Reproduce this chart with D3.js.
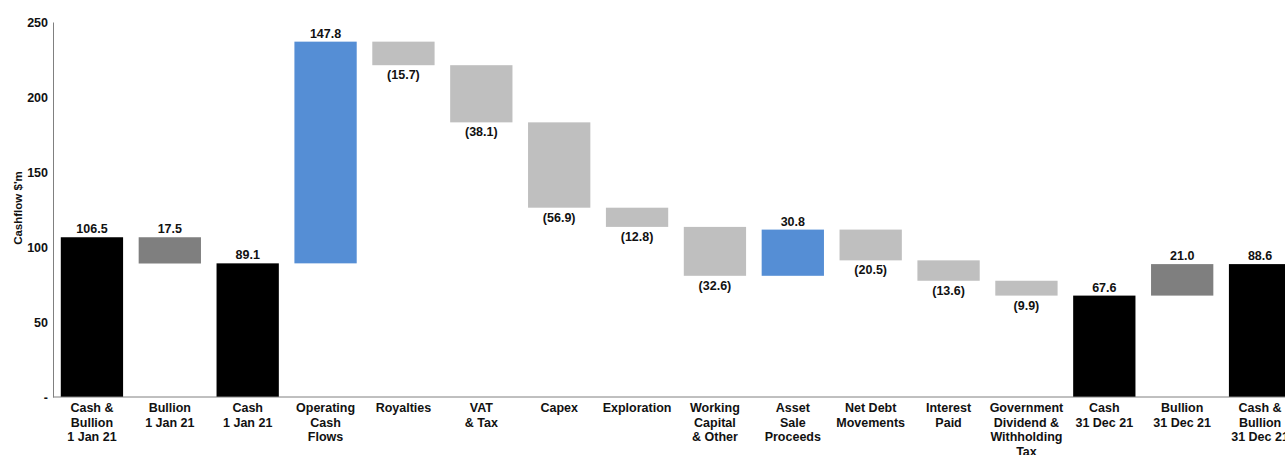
<!DOCTYPE html>
<html>
<head>
<meta charset="utf-8">
<script src="https://cdn.jsdelivr.net/npm/d3@7"></script>
<style>
  body { margin: 0; background: #fff; }
  svg text { font-family: "Liberation Sans", Arial, sans-serif; font-weight: bold; fill: #111; }
</style>
</head>
<body>
<svg width="1285" height="455"></svg>
<script>
const svg = d3.select("svg");

// categories (label lines) and values
const categories = [
    ["Cash &", "Bullion", "1 Jan 21"],
    ["Bullion", "1 Jan 21"],
    ["Cash", "1 Jan 21"],
    ["Operating", "Cash", "Flows"],
    ["Royalties"],
    ["VAT", "& Tax"],
    ["Capex"],
    ["Exploration"],
    ["Working", "Capital", "& Other"],
    ["Asset", "Sale", "Proceeds"],
    ["Net Debt", "Movements"],
    ["Interest", "Paid"],
    ["Government", "Dividend &", "Withholding", "Tax"],
    ["Cash", "31 Dec 21"],
    ["Bullion", "31 Dec 21"],
    ["Cash &", "Bullion", "31 Dec 21"]
];
const values = [106.5, -17.5, 89.1, 147.8, -15.7, -38.1, -56.9, -12.8, -32.6, 30.8, -20.5, -13.6, -9.9, 67.6, 21.0, 88.6];
// total = bar from zero; bullion = dark grey step; flow = step
const kinds = ["total", "bullion", "total", "flow", "flow", "flow", "flow", "flow", "flow", "flow", "flow", "flow", "flow", "total", "bullion", "total"];
const labels = ["106.5", "17.5", "89.1", "147.8", "(15.7)", "(38.1)", "(56.9)", "(12.8)", "(32.6)", "30.8", "(20.5)", "(13.6)", "(9.9)", "67.6", "21.0", "88.6"];
const yTicks = [0, 50, 100, 150, 200, 250];

const x = d3.scaleBand()
    .domain(d3.range(categories.length))
    .range([53, 1299])
    .paddingInner(0.2)
    .paddingOuter(0.1);

const y = d3.scaleLinear().domain([0, 250]).range([397, 22]);

// compute floating bar extents
let running = 0;
const bars = values.map((v, i) => {
    let y0, y1;
    if (kinds[i] === "total") {
        y0 = 0; y1 = v; running = v;
    } else {
        y0 = running; y1 = running + v; running = y1;
    }
    return { i, v, lo: Math.min(y0, y1), hi: Math.max(y0, y1), kind: kinds[i], label: labels[i] };
});

function fill(d) {
    if (d.kind === "total") return "#000000";
    if (d.kind === "bullion") return "#7f7f7f";
    return d.v > 0 ? "#558ed5" : "#bfbfbf";
}

svg.append("g")
    .selectAll("rect")
    .data(bars)
    .enter().append("rect")
    .attr("x", d => x(d.i))
    .attr("width", x.bandwidth())
    .attr("y", d => y(d.hi))
    .attr("height", d => y(d.lo) - y(d.hi))
    .attr("fill", fill);

// value labels: above for positive / totals, below for negative flows
svg.append("g")
    .selectAll("text")
    .data(bars)
    .enter().append("text")
    .attr("x", d => x(d.i) + x.bandwidth() / 2)
    .attr("y", d => (d.kind === "flow" && d.v < 0) ? y(d.lo) + 14 : y(d.hi) - 4)
    .attr("text-anchor", "middle")
    .style("font-size", "12.5px")
    .text(d => d.label);

// y axis
const yAxis = svg.append("g")
    .attr("transform", "translate(53,0)")
    .call(d3.axisLeft(y).tickValues(yTicks).tickSize(0).tickPadding(5)
        .tickFormat(d => d === 0 ? "-" : d));
yAxis.select(".domain").attr("stroke", "#808080");
yAxis.selectAll("text").style("font-size", "12.5px").attr("fill", "#111");

// x axis line
svg.append("line")
    .attr("x1", 53).attr("x2", 1285)
    .attr("y1", 397).attr("y2", 397)
    .attr("stroke", "#808080");

// x labels
const xl = svg.append("g")
    .selectAll("text")
    .data(categories)
    .enter().append("text")
    .attr("text-anchor", "middle")
    .style("font-size", "12.5px")
    .attr("transform", (d, i) => `translate(${x(i) + x.bandwidth() / 2},412)`);
xl.selectAll("tspan")
    .data(d => d)
    .enter().append("tspan")
    .attr("x", 0)
    .attr("dy", (d, j) => j === 0 ? 0 : 14.5)
    .text(d => d);

// y title
svg.append("text")
    .attr("transform", "translate(22,208) rotate(-90)")
    .attr("text-anchor", "middle")
    .style("font-size", "11.5px")
    .text("Cashflow $'m");
</script>
</body>
</html>
